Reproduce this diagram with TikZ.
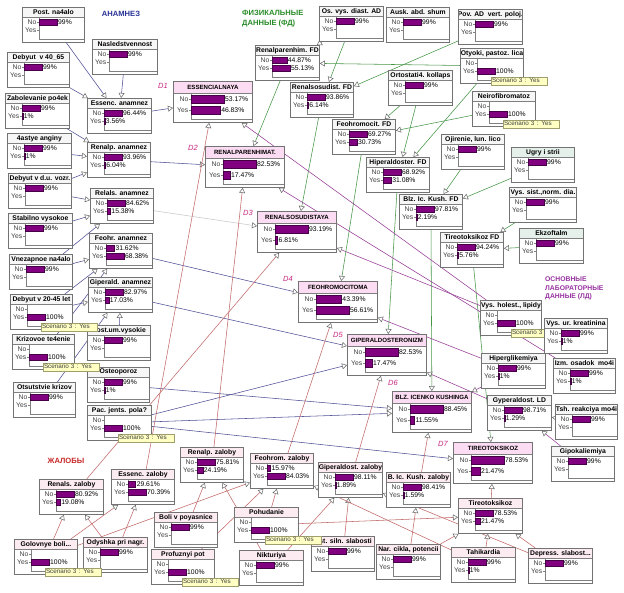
\documentclass[tikz,border=0pt]{standalone}
\usepackage{fontspec}
\setmainfont{Liberation Sans}
\usetikzlibrary{arrows.meta,calc}

\definecolor{barc}{RGB}{128,0,128}
\definecolor{hGray}{RGB}{246,246,246}
\definecolor{hPink}{RGB}{252,220,242}
\definecolor{hRose}{RGB}{252,236,241}
\definecolor{hMint}{RGB}{230,240,235}
\definecolor{scFill}{RGB}{255,255,196}
\definecolor{scDraw}{RGB}{160,160,110}
\definecolor{cAnam}{RGB}{80,80,150}
\definecolor{cFiz}{RGB}{70,150,70}
\definecolor{cZal}{RGB}{195,105,105}
\definecolor{cLab}{RGB}{150,60,150}
\definecolor{cGr}{RGB}{200,200,200}
\definecolor{tAnam}{RGB}{40,50,150}
\definecolor{tFiz}{RGB}{40,140,40}
\definecolor{tLab}{RGB}{150,50,160}
\definecolor{tZal}{RGB}{200,40,40}
\definecolor{tD}{RGB}{200,40,130}

\pgfdeclarelayer{edges}
\pgfsetlayers{edges,main}

\tikzset{
    nbox/.style={draw=black!55, line width=0.9pt, fill=white, rectangle, inner sep=0pt, anchor=north west},
    nline/.style={draw=black!50, line width=0.5pt},
    nhead/.style={fill=hGray}, dhead/.style={fill=hPink}, zhead/.style={fill=hRose}, mhead/.style={fill=hMint},
    ntitle/.style={font=\fontsize{6.8}{7}\selectfont\bfseries, inner sep=0pt},
    dtitle/.style={font=\fontsize{6.1}{7}\selectfont\bfseries, inner sep=0pt},
    nstate/.style={font=\fontsize{6.8}{7}\selectfont, text=black!75, inner sep=0pt, anchor=east},
    npct/.style={font=\fontsize{6.8}{7}\selectfont, inner sep=0pt, anchor=west},
    bar/.style={fill=barc, draw=barc!55!black, line width=0.3pt},
    scen/.style={draw=scDraw, fill=scFill, line width=0.4pt, font=\fontsize{6.3}{7}\selectfont, text=black!75, inner sep=0.8pt, anchor=north west, minimum width=56, minimum height=8},
    lnk/.style={line width=0.55pt, -{Triangle[fill=white, color=black!60, length=5pt, width=6pt, line width=0.5pt]}},
    anedge/.style={lnk, draw=cAnam},
    fdedge/.style={lnk, draw=cFiz},
    zhedge/.style={lnk, draw=cZal},
    ldedge/.style={lnk, draw=cLab},
    gredge/.style={lnk, draw=cGr},
    grp/.style={font=\fontsize{7.6}{10}\selectfont\bfseries, inner sep=0pt},
    dlbl/.style={font=\fontsize{7.5}{8}\selectfont\itshape, text=tD, inner sep=0pt}
}

\newcommand{\nbar}[5]{%
    \if\relax\detokenize{#3}\relax\else
    \pgfmathsetmacro\blen{max(\nBm*#3/#4,0.7)}%
    \filldraw[bar] ($(#1.north west)+(\nAx,{#2-\nBh/2})$) rectangle ++(\blen,\nBh);
    \node[npct] (#1#5) at ($(#1.north west)+({\nAx+\blen+1},#2)$) {#3\%};
    \fi}

\newcommand{\gnode}[9]{%
    \node[nbox, minimum width=#4, minimum height=\nH] (#2) at (#3) {};
    \fill[#1] ($(#2.north west)+(0.5,0.5)$) rectangle ($(#2.north east)+(-0.5,\nTh)$);
    \draw[nline] ($(#2.north west)+(0,\nTh)$) -- ($(#2.north east)+(0,\nTh)$);
    \node[#9] (#2t) at ($(#2.north)+(0,{\nTh/2+0.3})$) {#5};
    \draw[nline] ($(#2.north west)+(\nAx,\nTh)$) -- ($(#2.south west)+(\nAx,-4)$) -- ($(#2.south east)+(0,-4)$);
    \draw[nline] ($(#2.north west)+({\nAx-2},\nRa)$) -- ++(2,0);
    \draw[nline] ($(#2.north west)+({\nAx-2},\nRb)$) -- ++(2,0);
    \node[nstate] (#2ln) at ($(#2.north west)+({\nAx-2.5},\nRa)$) {No};
    \node[nstate] (#2ly) at ($(#2.north west)+({\nAx-2.5},\nRb)$) {Yes};
    \nbar{#2}{\nRa}{#6}{#8}{n}%
    \nbar{#2}{\nRb}{#7}{#8}{y}%
    \draw[draw=black!55, line width=0.9pt] (#2.north west) rectangle (#2.south east);
}

\newcommand{\bnode}[8][nhead]{\def\nTh{10}\def\nRa{15.5}\def\nRb{23}\def\nBh{6}\def\nBm{18}\def\nH{35}\def\nAx{17}%
    \gnode{#1}{#2}{#3}{#4}{#5}{#6}{#7}{#8}{ntitle}}
\newcommand{\dnode}[6]{\def\nTh{12}\def\nRa{18.5}\def\nRb{29}\def\nBh{8}\def\nBm{33}\def\nH{41}\def\nAx{18}%
    \gnode{dhead}{#1}{#2}{79}{#3}{#4}{#5}{#6}{dtitle}}
\newcommand{\scen}[2][Scenario 3 : Yes]{\node[scen, text width=54.4, align=left] (#2sc) at ($(#2.north west)+(31,28.5)$) {#1};}

\begin{document}
\begin{tikzpicture}[x=1pt, y=-1pt]
    \useasboundingbox (0,0) rectangle (624,592);
    \begin{pgfonlayer}{edges}
    \fill[white] (0,0) rectangle (624,592);
    \end{pgfonlayer}

    \bnode{postna}{22,7}{62}{Post. na4alo}{99}{}{99}
    \bnode{nasled}{92,39}{65}{Nasledstvennost}{99}{}{99}
    \bnode{deb4065}{7,52}{62}{Debyut\ \ v 40\_65}{99}{}{99}
    \bnode{zabpoch}{5,93}{64}{Zabolevanie po4ek}{99}{1}{99}
    \bnode{essanam}{87,98}{64}{Essenc. anamnez}{96.44}{3.56}{96.44}
    \bnode{angin}{7,133}{64}{4astye anginy}{99}{1}{99}
    \bnode{renanam}{87,142}{63}{Renalp. anamnez}{93.96}{6.04}{93.96}
    \bnode{debdu}{8,173}{63}{Debyut v d.u. vozr.}{99}{}{99}
    \bnode{relanam}{90,188}{63}{Relals. anamnez}{84.62}{15.38}{84.62}
    \bnode{stabvys}{8,213}{64}{Stabilno vysokoe}{99}{}{99}
    \bnode{feoanam}{89,233}{63}{Feohr. anamnez}{31.62}{68.38}{68.38}
    \bnode{vnezap}{9,254}{63}{Vnezapnoe na4alo}{99}{}{99}
    \bnode{gipanam}{88,277}{64}{Giperald. anamnez}{82.97}{17.03}{82.97}
    \bnode{postum}{87,325}{63}{Post.um.vysokie}{99}{}{99}
    \bnode{osteo}{87,367}{62}{Osteoporoz}{99}{1}{99}
    \bnode{otskriz}{13,382}{62}{Otsutstvie krizov}{99}{}{99}

    \bnode{osvys}{319,6}{64}{Os. vys. diast. AD}{99}{}{99}
    \bnode{ausk}{386,7}{63}{Ausk. abd. shum}{99}{}{99}
    \bnode{povad}{458,9}{64}{Pov. AD\ \ vert. poloj.}{99}{}{99}
    \bnode{renpfd}{255,45}{64}{Renalparenhim. FD}{44.87}{55.13}{55.13}
    \bnode{ortost}{388,70}{64}{Ortostati4. kollaps}{99}{}{99}
    \bnode{renvfd}{290,82}{63}{Renalsosudist. FD}{93.86}{6.14}{93.86}
    \bnode{feofd}{332,119}{63}{Feohromocit. FD}{69.27}{30.73}{69.27}
    \bnode{ojir}{441,134}{63}{Ojirenie, lun. lico}{99}{}{99}
    \bnode[mhead]{ugry}{511,147}{63}{Ugry i strii}{99}{}{99}
    \bnode{hipfd}{366,157}{63}{Hiperaldoster. FD}{68.92}{31.08}{68.92}
    \bnode{vyssist}{509,187}{67}{Vys. sist.,norm. dia.}{99}{}{99}
    \bnode{blzfd}{399,194}{63}{Blz. Ic. Kush. FD}{97.81}{2.19}{97.81}
    \bnode[mhead]{ekzo}{519,228}{64}{Ekzoftalm}{99}{}{99}
    \bnode{tirfd}{440,232}{63}{Tireotoksikoz FD}{94.24}{5.76}{94.24}

    \bnode{hipergl}{481,353}{64}{Hiperglikemiya}{99}{1}{99}
    \bnode{izmos}{553,358}{62}{Izm. osadok\ \ mo4i}{99}{1}{99}
    \bnode{gypld}{487,395}{64}{Gyperaldost. LD}{98.71}{1.29}{98.71}
    \bnode{tshr}{555,404}{62}{Tsh. reakciya mo4i}{99}{}{99}
    \bnode{gipok}{551,446}{63}{Gipokaliemiya}{99}{}{99}

    \bnode[zhead]{renalsz}{39,479}{64}{Renals. zaloby}{80.92}{19.08}{80.92}
    \bnode[zhead]{essz}{111,469}{63}{Essenc. zaloby}{29.61}{70.39}{70.39}
    \bnode[zhead]{odysh}{83,537}{64}{Odyshka pri nagr.}{99}{}{99}
    \bnode[zhead]{boli}{154,512}{63}{Boli v poyasnice}{99}{}{99}
    \bnode[zhead]{renpz}{180,447}{63}{Renalp. zaloby}{75.81}{24.19}{75.81}
    \bnode[zhead]{feoz}{250,453}{63}{Feohrom. zaloby}{15.97}{84.03}{84.03}
    \bnode[zhead]{gipz}{318,462}{64}{Giperaldost. zaloby}{98.11}{1.89}{98.11}
    \bnode[zhead]{blzz}{386,472}{64}{B. Ic. Kush. zaloby}{98.41}{1.59}{98.41}
    \bnode[zhead]{niktur}{239,550}{64}{Nikturiya}{99}{}{99}
    \bnode[zhead]{ostsl}{311,536}{63}{Ost. siln. slabosti}{99}{}{99}
    \bnode[zhead]{narcik}{376,544}{64}{Nar. cikla, potencii}{99}{}{99}
    \bnode[zhead]{tireoz}{458,498}{64}{Tireotoksikoz}{78.53}{21.47}{78.53}
    \bnode[zhead]{tahik}{451,547}{64}{Tahikardia}{99}{1}{99}
    \bnode[zhead]{depress}{528,548}{64}{Depress. slabost...}{99}{}{99}

    \dnode{ess}{173,81}{ESSENCIALNAYA}{53.17}{46.83}{53.17}
    \dnode{renpar}{205,146}{RENALPARENHIMAT.}{82.53}{17.47}{82.53}
    \dnode{rensos}{257,211}{RENALSOSUDISTAYA}{93.19}{6.81}{93.19}
    \dnode{feoh}{298,281}{FEOHROMOCITOMA}{43.39}{56.61}{56.61}
    \dnode{giper}{347,334}{GIPERALDOSTERONIZM}{82.53}{17.47}{82.53}
    \dnode{blz}{392,391}{BLZ. ICENKO KUSHINGA}{88.45}{11.55}{88.45}
    \dnode{tireo}{453,442}{TIREOTOKSIKOZ}{78.53}{21.47}{78.53}

    \bnode{deb2045}{10,294}{62}{Debyut v 20-45 let}{}{100}{100} \scen{deb2045}
    \bnode{krizte}{12,334}{62}{Krizovoe te4enie}{}{100}{100} \scen{krizte}
    \bnode{pacpol}{87,405}{64}{Pac. jents. pola?}{}{100}{100} \scen{pacpol}
    \bnode[zhead]{golov}{14,539}{63}{Golovnye boli...}{}{100}{100} \scen{golov}
    \bnode[zhead]{profuz}{151,549}{63}{Profuznyi pot}{}{100}{100} \scen{profuz}
    \bnode[zhead]{pohud}{234,507}{64}{Pohudanie}{}{100}{100} \scen{pohud}
    \bnode{otyok}{460,48}{63}{Otyoki, pastoz. lica}{}{100}{100} \scen{otyok}
    \bnode{neiro}{472,91}{63}{Neirofibromatoz}{}{100}{100} \scen{neiro}
    \bnode{vysho}{480,300}{61}{Vys. holest., lipidy}{}{100}{100} \scen[Scenario 3]{vysho}
    \bnode{vysur}{544,318}{63}{Vys. ur. kreatinina}{99}{1}{99}

    \node[grp, text=tAnam] (hanam) at (121,14) {АНАМНЕЗ};
    \node[grp, text=tFiz, align=left, anchor=north west] (hfiz) at (242,10) {ФИЗИКАЛЬНЫЕ\\ДАННЫЕ (ФД)};
    \node[grp, text=tLab, font=\fontsize{6.8}{8.5}\selectfont\bfseries, align=left, anchor=north west] (hlab) at (545,277) {ОСНОВНЫЕ\\ЛАБОРАТОРНЫЕ\\ДАННЫЕ (ЛД)};
    \node[grp, text=tZal] (hzal) at (66,461) {ЖАЛОБЫ};
    \node[dlbl] (dl1) at (163,86) {D1};
    \node[dlbl] (dl2) at (193,148) {D2};
    \node[dlbl] (dl3) at (248,213) {D3};
    \node[dlbl] (dl4) at (288,279) {D4};
    \node[dlbl] (dl5) at (338,335) {D5};
    \node[dlbl] (dl6) at (393,383) {D6};
    \node[dlbl] (dl7) at (443,444) {D7};

    \begin{pgfonlayer}{edges}
    \draw[anedge] (postna)--(essanam);
    \draw[anedge] (nasled)--(essanam);
    \draw[anedge] (deb4065)--(essanam);
    \draw[anedge] (zabpoch)--(renanam);
    \draw[anedge] (angin)--(renanam);
    \draw[anedge] (debdu)--(renanam);
    \draw[anedge] (debdu)--(relanam);
    \draw[anedge] (stabvys)--(relanam);
    \draw[anedge] (vnezap)--(relanam);
    \draw[anedge] (vnezap)--(feoanam);
    \draw[anedge] (deb2045)--(feoanam);
    \draw[anedge] (krizte)--(feoanam);
    \draw[anedge] (deb2045)--(gipanam);
    \draw[anedge] (otskriz)--(gipanam);
    \draw[anedge] (postum)--(gipanam);
    \draw[anedge] (essanam)--(ess);
    \draw[anedge] (renanam)--(renpar);
    \draw[gredge] (relanam)--(rensos);
    \draw[anedge] (feoanam)--(feoh);
    \draw[anedge] (gipanam)--(giper);
    \draw[anedge] (osteo)--(blz);
    \draw[anedge] (pacpol)--(giper);
    \draw[anedge] (pacpol)--(blz);
    \draw[anedge] (pacpol)--(tireo);

    \draw[fdedge] (osvys)--(renpfd);
    \draw[fdedge] (osvys)--(renvfd);
    \draw[fdedge] (povad)--(renvfd);
    \draw[fdedge] (otyok)--(renpfd);
    \draw[fdedge] (otyok)--(hipfd);
    \draw[fdedge] (ortost)--(feofd);
    \draw[fdedge] (ortost)--(hipfd);
    \draw[fdedge] (neiro)--(feofd);
    \draw[fdedge] (ojir)--(blzfd);
    \draw[fdedge] (ugry)--(blzfd);
    \draw[fdedge] (vyssist)--(tirfd);
    \draw[fdedge] (ekzo)--(tirfd);
    \draw[fdedge] (renpfd)--(renpar);
    \draw[fdedge] (renvfd)--(rensos);
    \draw[fdedge] (feofd)--(feoh);
    \draw[fdedge] (hipfd)--(giper);
    \draw[fdedge] (blzfd)--(blz);
    \draw[fdedge] (tirfd)--(tireo);

    \draw[zhedge] (essz)--(ess);
    \draw[zhedge] (renpz)--(renpar);
    \draw[zhedge] (renalsz)--(rensos);
    \draw[zhedge] (feoz)--(feoh);
    \draw[zhedge] (gipz)--(giper);
    \draw[zhedge] (blzz)--(blz);
    \draw[zhedge] (tireoz)--(tireo);
    \draw[zhedge] (golov)--(renalsz);
    \draw[zhedge] (golov)--(essz);
    \draw[zhedge] (golov)--(feoz);
    \draw[zhedge] (odysh)--(renalsz);
    \draw[zhedge] (odysh)--(essz);
    \draw[zhedge] (boli)--(renpz);
    \draw[zhedge] (profuz)--(feoz);
    \draw[zhedge] (niktur)--(renpz);
    \draw[zhedge] (pohud)--(feoz);
    \draw[zhedge] (pohud)--(tireoz);
    \draw[zhedge] (niktur)--(gipz);
    \draw[zhedge] (ostsl)--(gipz);
    \draw[zhedge] (depress)--(gipz);
    \draw[zhedge] (tahik)--(feoz);
    \draw[zhedge] (narcik)--(blzz);
    \draw[zhedge] (narcik)--(tireoz);
    \draw[zhedge] (tahik)--(tireoz);
    \draw[zhedge] (depress)--(tireoz);

    \draw[ldedge] (vysho)--(ess);
    \draw[ldedge] (vysho)--(rensos);
    \draw[ldedge] (izmos)--(renpar);
    \draw[ldedge] (hipergl)--(feoh);
    \draw[ldedge] (hipergl)--(blz);
    \draw[ldedge] (gypld)--(giper);
    \draw[ldedge] (tshr)--(gypld);
    \draw[ldedge] (gipok)--(gypld);
    \end{pgfonlayer}
\end{tikzpicture}
\end{document}
